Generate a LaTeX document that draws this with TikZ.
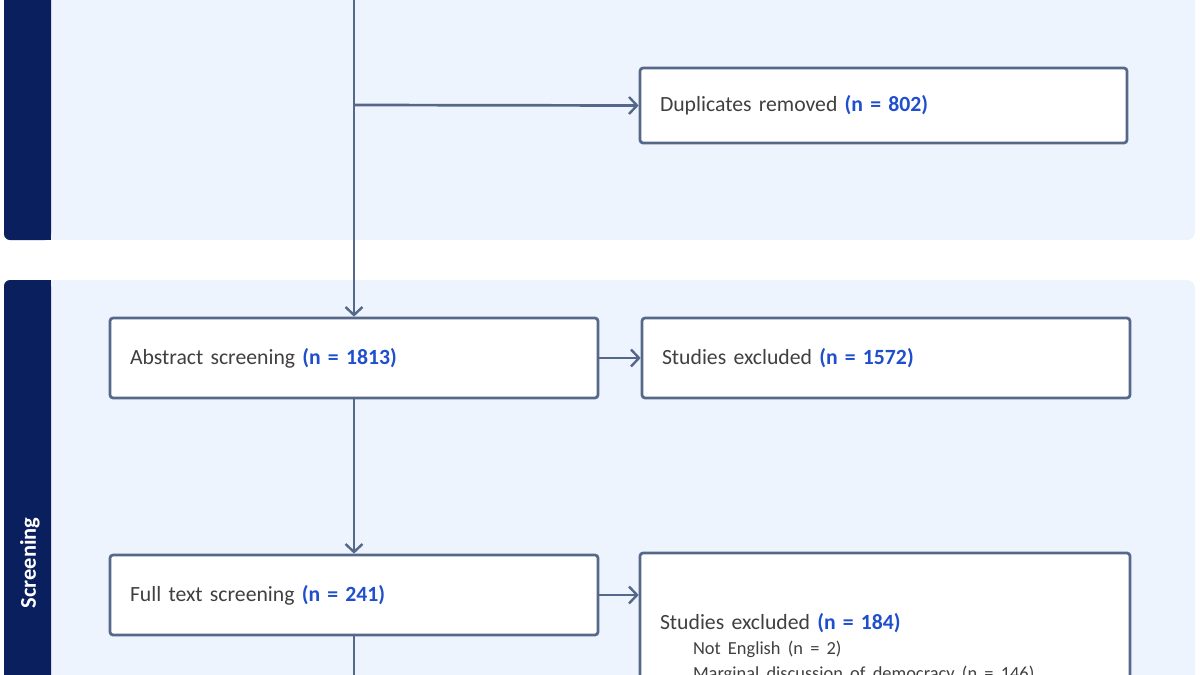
\documentclass[tikz,border=0pt]{standalone}
\usepackage{fontspec}
\setmainfont{Carlito}
\usetikzlibrary{arrows.meta,positioning}
\definecolor{navy}{HTML}{0A1F5E}
\definecolor{panelbg}{HTML}{EEF4FD}
\definecolor{linegray}{HTML}{56688A}
\definecolor{textgray}{HTML}{404040}
\definecolor{nblue}{HTML}{1F4FCC}
\newcommand{\Ncount}[1]{\textcolor{nblue}{\textbf{(n = #1)}}}
\newcommand{\Subline}[1]{\hspace*{33pt}{\fontsize{18.4}{24}\selectfont #1}}

\begin{document}
\begin{tikzpicture}[x=1pt,y=-1pt,
  >={Straight Barb[length=8pt,width=17pt,line width=2.4pt]},
  stage/.style={rectangle,draw=linegray,line width=2.7pt,fill=white,rounded corners=3pt,
    minimum width=488pt,minimum height=80pt,text width=448pt,inner xsep=20pt,
    align=left,text=textgray,font=\fontsize{21.7}{25}\selectfont},
  flow/.style={->,line width=2.7pt,draw=linegray},
  band/.style={fill=panelbg,rounded corners=8pt},
  bandside/.style={fill=navy,rounded corners=6pt}]
\useasboundingbox (0,0) rectangle (1200,675);
% \draw[help lines] (0,0) grid[step=50] (1200,675);
% bands
\fill[band] (4,-30) rectangle (1195,240);
\fill[bandside] (4,-30) rectangle (51,240);
\fill[navy] (40,-30) rectangle (51,240);
\fill[band] (4,280) rectangle (1195,720);
\fill[bandside] (4,280) rectangle (51,720);
\fill[navy] (40,280) rectangle (51,720);
\node (screening) [rotate=90,text=white,font=\fontsize{22.5}{25}\selectfont\bfseries] at (30,563) {Screening};
%
\node (dup) [stage,minimum width=487pt,minimum height=75pt,text width=447pt] at (883.5,105.5) {Duplicates removed \Ncount{802}};
\node (abs) [stage] at (354,358) {Abstract screening \Ncount{1813}};
\node (exc1) [stage] at (886,358) {Studies excluded \Ncount{1572}};
\node (full) [stage] at (354,595) {Full text screening \Ncount{241}};
\node (exc2) [stage,minimum width=490pt,text width=450pt,minimum height=190pt] at (885,648)
  {Studies excluded \Ncount{184}\\
   \Subline{Not English (n = 2)}\\
   \Subline{Marginal discussion of democracy (n = 146)}};
\coordinate (top) at (354,-30);
\coordinate (split) at (354,105);
\coordinate (bottom) at (354,720);
%
\draw[line width=2.7pt,linegray] (top) -- (split);
\draw[flow] (split) -- (abs.north);
\draw[flow] (split) -- (dup.west);
\draw[flow] (abs.east) -- (exc1.west);
\draw[flow] (abs.south) -- (full.north);
\draw[flow] (full.east) -- (full.east -| exc2.west);
\draw[line width=2.7pt,linegray] (full.south) -- (bottom);
\end{tikzpicture}
\end{document}
